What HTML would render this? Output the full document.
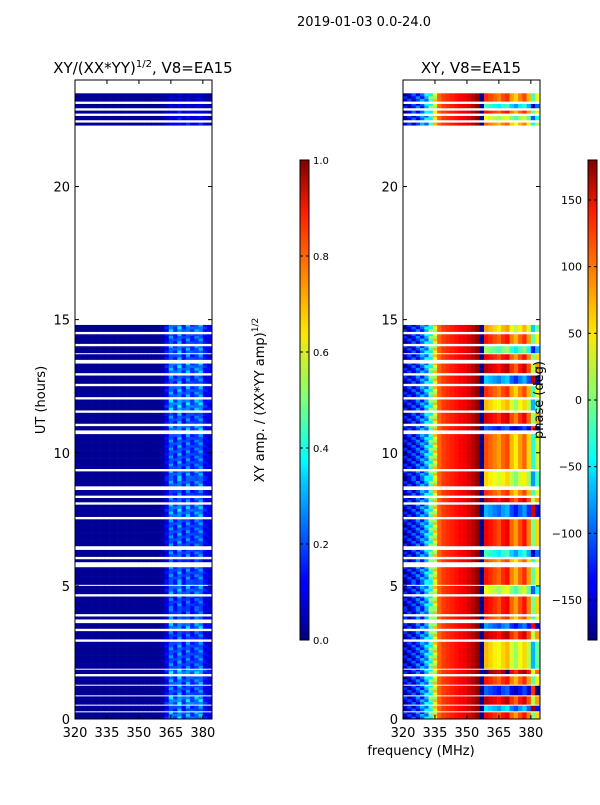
<!DOCTYPE html>
<html><head><meta charset="utf-8"><style>
body{margin:0;background:#fff;width:600px;height:800px;overflow:hidden;font-family:"Liberation Sans","DejaVu Sans",sans-serif}
text{font-family:"DejaVu Sans","Liberation Sans",sans-serif;fill:#000}
</style></head><body>
<svg id="fig" width="600" height="800" xmlns="http://www.w3.org/2000/svg">
<defs>
<linearGradient id="jet" x1="0" y1="1" x2="0" y2="0">
<stop offset="0" stop-color="#00007f"/><stop offset="0.11" stop-color="#0000ff"/><stop offset="0.125" stop-color="#0000ff"/>
<stop offset="0.34" stop-color="#00d4ff"/><stop offset="0.375" stop-color="#00ffff"/><stop offset="0.5" stop-color="#7dff7a"/>
<stop offset="0.64" stop-color="#ffe600"/><stop offset="0.66" stop-color="#ffd700"/><stop offset="0.89" stop-color="#ff1e00"/><stop offset="1" stop-color="#7f0000"/>
</linearGradient>
</defs>
<text x="364" y="26" font-size="13" text-anchor="middle">2019-01-03 0.0-24.0</text>
<text x="143" y="73" font-size="15" text-anchor="middle">XY/(XX*YY)<tspan font-size="10" dy="-6">1/2</tspan><tspan dy="6">, V8=EA15</tspan></text>
<text x="471" y="73" font-size="15" text-anchor="middle">XY, V8=EA15</text>
<g id="left"></g>
<g id="right"></g>
<text transform="translate(45,400) rotate(-90)" font-size="13" text-anchor="middle">UT (hours)</text>
<text x="421" y="755" font-size="13" text-anchor="middle">frequency (MHz)</text>
<rect x="300" y="160" width="9" height="480" fill="url(#jet)" stroke="#000" stroke-width="1"/>
<rect x="588" y="160" width="9" height="480" fill="url(#jet)" stroke="#000" stroke-width="1"/>
<text transform="translate(264,400) rotate(-90)" font-size="13" text-anchor="middle">XY amp. / (XX*YY amp)<tspan font-size="9" dy="-6">1/2</tspan></text>
<text transform="translate(543,400) rotate(-90)" font-size="13" text-anchor="middle">phase (deg)</text>
<g id="cb"></g>
</svg>
<script>
const NS="http://www.w3.org/2000/svg";
// data-present UT segments (hours)
const segStart=[0,0.3,0.55,0.9,1.3,1.7,1.9,3.0,3.4,3.75,3.95,4.7,5.05,5.9,6.1,6.5,7.6,8.15,8.4,8.75,9.4,10.85,11.1,11.6,12.1,12.6,13.0,13.5,13.75,14.1,14.55,22.3,22.5,22.75,22.95,23.2];
const segEnd=[0.25,0.5,0.85,1.25,1.6,1.85,2.9,3.3,3.6,3.85,4.6,5.0,5.7,6.0,6.35,7.5,8.05,8.3,8.6,9.3,10.7,11.0,11.5,12.0,12.5,12.9,13.35,13.7,14.0,14.45,14.8,22.4,22.65,22.85,23.1,23.5];
// frequency bins (MHz, left edges, 2 MHz wide)
const freqBins=[320,322,324,326,328,330,332,334,336,338,340,342,344,346,348,350,352,354,356,358,360,362,364,366,368,370,372,374,376,378,380,382];
// amplitude per frequency bin
const ampProfile=[0.02,0.02,0.02,0.02,0.02,0.02,0.02,0.02,0.02,0.02,0.02,0.02,0.02,0.02,0.02,0.02,0.02,0.02,0.02,0.02,0.03,0.1,0.2,0.14,0.22,0.13,0.2,0.14,0.18,0.2,0.1,0.08];
// phase per frequency bin (deg)
const phaseProfile=[-150,-140,-130,-115,-100,-70,-20,40,100,115,120,125,130,135,140,150,160,175,-175,100,90,80,70,90,100,60,40,70,90,50,-40,20];
// per-segment phase offset for high-frequency region
const segPhaseOffset=[40,-150,60,-200,30,80,-30,60,-180,20,40,-60,30,10,-120,40,-170,60,20,-40,10,-200,50,-30,20,-160,60,40,-90,30,-20,0,-60,30,-120,20];
const segAmpScale=[1.2,1,1.3,1,1.1,1.4,1,0.9,1.2,1,0.9,1.1,1,0.8,1,1,1.2,1,0.9,1.1,1,1.2,1,1.3,1.1,1,1.2,1,1.1,1,1.2,0.6,0.5,0.5,0.4,0.3];
const xTicks=[320,335,350,365,380];
const yTicks=[0,5,10,15,20];
const ampTicks=[0.0,0.2,0.4,0.6,0.8,1.0];
const phaseTicks=[-150,-100,-50,0,50,100,150];

function jet(v){v=Math.max(0,Math.min(1,v));
 const r=Math.max(0,Math.min(1,1.5-Math.abs(4*v-3))),g=Math.max(0,Math.min(1,1.5-Math.abs(4*v-2))),b=Math.max(0,Math.min(1,1.5-Math.abs(4*v-1)));
 return `rgb(${Math.round(r*255)},${Math.round(g*255)},${Math.round(b*255)})`;}
const Y=h=>719-h*26.625;
function mk(tag,attrs,parent){const e=document.createElementNS(NS,tag);for(const k in attrs)e.setAttribute(k,attrs[k]);parent.appendChild(e);return e;}

function panel(gid,x0,isPhase){
 const g=document.getElementById(gid);
 const X=f=>x0+(f-320)*137/64.3;
 for(let s=0;s<segStart.length;s++){
  for(let t=segStart[s];t<segEnd[s]-1e-6;t+=0.1){
   const t1=Math.min(t+0.1,segEnd[s]);
   const k=Math.round(t*10);
   for(let j=0;j<freqBins.length;j++){
    let v;
    if(isPhase){
     let p=phaseProfile[j]+(freqBins[j]>=358?segPhaseOffset[s]:0)+(freqBins[j]<336?(((k+j)%3)-1)*30:0);
     p=((p+180)%360+360)%360-180;v=(p+180)/360;
    }else{
     v=freqBins[j]>=362?ampProfile[j]*segAmpScale[s]*(((k+j)%3)?1:1.4):ampProfile[j];
    }
    const r=mk('rect',{x:X(freqBins[j]).toFixed(2),y:Y(t1).toFixed(2),width:(2*137/64.3+0.3).toFixed(2),height:(Y(t)-Y(t1)+0.3).toFixed(2),fill:jet(v)},g);
    
    
   }
  }
 }
 const fr=mk('rect',{x:x0,y:80,width:137,height:639,fill:'none',stroke:'#000','stroke-width':1},g);
 
 
 xTicks.forEach(f=>{const x=X(f);
  mk('line',{x1:x,x2:x,y1:719,y2:715,stroke:'#000'},g);mk('line',{x1:x,x2:x,y1:80,y2:84,stroke:'#000'},g);
  const tx=mk('text',{x:x,y:737,'font-size':13,'text-anchor':'middle'},g);tx.textContent=f;
  
  });
 yTicks.forEach(h=>{const y=Y(h);
  mk('line',{x1:x0,x2:x0+4,y1:y,y2:y,stroke:'#000'},g);mk('line',{x1:x0+137,x2:x0+133,y1:y,y2:y,stroke:'#000'},g);
  const tx=mk('text',{x:x0-5,y:y+5,'font-size':13,'text-anchor':'end'},g);tx.textContent=h;
  
  });
}
panel('left',75,false);
panel('right',403,true);
const cb=document.getElementById('cb');
ampTicks.forEach(v=>{const y=640-v*480;
 mk('line',{x1:300,x2:303,y1:y,y2:y,stroke:'#000'},cb);mk('line',{x1:309,x2:306,y1:y,y2:y,stroke:'#000'},cb);
 const t=mk('text',{x:313,y:y+4,'font-size':10},cb);t.textContent=v.toFixed(1);
 
 });
phaseTicks.forEach(v=>{const y=640-(v+180)/360*480;
 mk('line',{x1:588,x2:591,y1:y,y2:y,stroke:'#000'},cb);mk('line',{x1:597,x2:594,y1:y,y2:y,stroke:'#000'},cb);
 const t=mk('text',{x:582,y:y+4,'font-size':11,'text-anchor':'end'},cb);t.textContent=v<0?'\u2212'+(-v):v;
 
 });
</script>
</body></html>
